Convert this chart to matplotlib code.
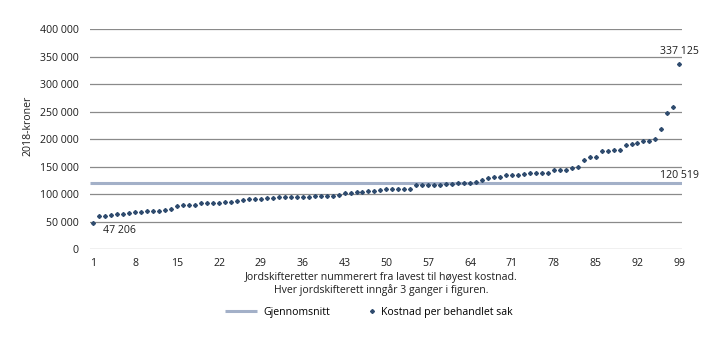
import numpy as np
import matplotlib
matplotlib.use("Agg")
import matplotlib.pyplot as plt
from matplotlib.ticker import FuncFormatter

plt.rcParams["font.family"] = ["Open Sans", "DejaVu Sans"]

# kostnad per behandlet sak, sortert (2018-kroner)
kostnad = [
    47206, 60400, 61000, 62200, 64000, 64600, 65900, 67700, 68200, 68900,
    69500, 70100, 71400, 72600, 78600, 79900, 80500, 81000, 83600, 83600,
    84100, 84700, 85400, 85900, 87700, 89000, 91400, 91400, 91400, 92600,
    93000, 94400, 94400, 94400, 94400, 94400, 94400, 96200, 97300, 97300,
    97300, 98600, 102200, 102200, 103500, 103500, 105300, 106400, 107700, 110000,
    110000, 110000, 110000, 110000, 116200, 117300, 117300, 117300, 117300, 118600,
    118600, 119800, 119800, 121000, 122200, 126000, 130000, 131300, 131300, 134600,
    134600, 134600, 137300, 139100, 139100, 139100, 139100, 144000, 144000, 144000,
    147500, 150000, 162800, 168200, 168200, 178800, 178800, 179800, 179800, 189200,
    192000, 193300, 196000, 196000, 199700, 219000, 247000, 259000, 337125,
]
gjennomsnitt = 120519
nr = np.arange(1, len(kostnad) + 1)
xticks = list(range(1, 100, 7))
yticks = list(range(0, 400001, 50000))

FS = 7.6
TXT = "#1e1e1e"


def tusen(v, pos=None):
    return "{:,.0f}".format(v).replace(",", " ")


fig = plt.figure(figsize=(7.19, 3.41), dpi=100)
ax = fig.add_axes([0.125, 0.269, 0.824, 0.646])

for y in yticks:
    ax.axhline(y, color="#8a8a8a", lw=0.9, zorder=1)

snitt, = ax.plot([0.4, 99.5], [gjennomsnitt, gjennomsnitt], color="#a3b0c8",
                 lw=2.2, label="Gjennomsnitt", zorder=2, solid_capstyle="butt")
pkt, = ax.plot(nr, kostnad, ls="none", marker="D", ms=2.0, color="#2f4b6e",
               label="Kostnad per behandlet sak", zorder=3)

ax.set_xlim(0.4, 99.5)
ax.set_ylim(0, 400000)
ax.set_xticks(xticks)
ax.set_yticks(yticks)
ax.yaxis.set_major_formatter(FuncFormatter(tusen))
ax.tick_params(length=0, labelsize=FS, colors=TXT, pad=6)
ax.tick_params(axis="y", pad=8)
for s in ax.spines.values():
    s.set_visible(False)

ax.annotate(tusen(kostnad[0]), (1, kostnad[0]), xytext=(7, -5),
            textcoords="offset points", fontsize=FS, color=TXT,
            ha="left", va="center")
ax.annotate(tusen(kostnad[-1]), (99, kostnad[-1]), xytext=(0, 9),
            textcoords="offset points", fontsize=FS, color=TXT,
            ha="center", va="center")
ax.annotate(tusen(gjennomsnitt), (99, gjennomsnitt), xytext=(0, 5.5),
            textcoords="offset points", fontsize=FS, color=TXT,
            ha="center", va="center")

fig.text(28 / 719, 1 - 126 / 341, "2018-kroner", rotation=90, fontsize=FS,
         ha="center", va="center", color=TXT)
fig.text(381 / 719, 1 - 284 / 341,
         "Jordskifteretter nummerert fra lavest til høyest kostnad.\n"
         "Hver jordskifterett inngår 3 ganger i figuren.",
         fontsize=FS, ha="center", va="center", color=TXT, linespacing=1.1)

leg_y = 1 - 312 / 341
l1 = fig.legend(handles=[snitt], loc="center left",
                bbox_to_anchor=(225 / 719, leg_y), frameon=False, fontsize=FS,
                handlelength=3.0, handletextpad=0.65, borderpad=0,
                borderaxespad=0)
l2 = fig.legend(handles=[pkt], loc="center left",
                bbox_to_anchor=(368 / 719, leg_y), frameon=False, fontsize=FS,
                handlelength=0.8, handletextpad=0.45, borderpad=0,
                borderaxespad=0)

fig.savefig("out.png", dpi=100)
